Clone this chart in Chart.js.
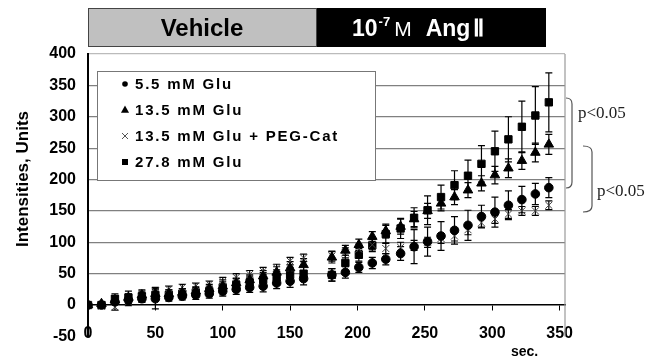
<!DOCTYPE html>
<html>
<head>
<meta charset="utf-8">
<script src="https://cdn.jsdelivr.net/npm/chart.js@4.4.1/dist/chart.umd.min.js"></script>
<style>
  html, body { margin: 0; padding: 0; background: #fff; }
  #wrap { width: 651px; height: 358px; position: relative; }
</style>
</head>
<body>
<div id="wrap"><canvas id="c" width="651" height="358"></canvas></div>
<script>
(function () {
  'use strict';

  // sampling times (sec.), no sample at 170 when Ang II is added
  const times = [0, 10, 20, 30, 40, 50, 60, 70, 80, 90, 100, 110, 120, 130, 140, 150, 160,
                 181, 191, 201, 211, 221, 232, 242, 252, 262, 272, 282, 292, 302, 312, 322, 332, 342];

  const seriesNames = ['5.5 mM Glu', '13.5 mM Glu', '13.5 mM Glu + PEG-Cat', '27.8 mM Glu'];

  const glu55 = [0, 0, 5, 8, 10, 10, 12, 14, 16, 18, 22, 25, 28, 30, 35, 38, 42,
                 48, 52, 60, 67, 73, 82, 93, 101, 110, 119, 127, 141, 148, 159, 168, 177, 187];
  const glu55Err = [0, 2, 4, 5, 5, 16, 6, 6, 7, 7, 8, 8, 8, 9, 9, 10, 10,
                    10, 9, 8, 9, 9, 11, 27, 23, 23, 22, 24, 18, 24, 23, 21, 17, 16];

  const glu135 = [0, 2, 8, 12, 16, 18, 18, 20, 22, 26, 30, 35, 40, 46, 52, 59, 64,
                  76, 87, 96, 109, 118, 125, 137, 150, 162, 172, 183, 194, 207, 218, 230, 243, 256];
  const glu135Err = [0, 2, 5, 6, 6, 6, 6, 6, 7, 7, 7, 8, 8, 9, 9, 10, 10,
                     9, 8, 9, 8, 11, 12, 12, 12, 12, 12, 12, 12, 14, 15, 14, 15, 16];

  const pegCat = [0, -2, -3, 5, 12, 22, 25, 28, 30, 33, 38, 44, 49, 54, 59, 70, 75,
                  78, 83, 89, 96, 90, 92, 95, 100, 106, 110, 120, 131, 137, 145, 150, 150, 159];
  const pegCatErr = [0, 3, 5, 6, 6, 6, 5, 5, 5, 5, 6, 6, 6, 6, 6, 6, 6,
                     8, 8, 8, 8, 8, 8, 8, 8, 8, 8, 8, 7, 7, 7, 7, 7, 7];

  const glu278 = [0, 0, 10, 12, 14, 16, 16, 18, 20, 22, 28, 32, 36, 40, 44, 48, 50,
                  48, 67, 80, 95, 113, 122, 139, 151, 172, 191, 206, 225, 245, 264, 284, 302, 323];
  const glu278Err = [0, 3, 8, 10, 10, 10, 8, 8, 8, 8, 12, 10, 10, 12, 12, 12, 12,
                     10, 12, 10, 10, 14, 16, 16, 23, 19, 23, 25, 29, 32, 36, 41, 46, 47];

  const xTicks = [0, 50, 100, 150, 200, 250, 300, 350];
  const yTicks = [-50, 0, 50, 100, 150, 200, 250, 300, 350, 400];

  const FONT = "'Liberation Sans', Arial, sans-serif";
  const SERIF = "'Liberation Serif', 'Times New Roman', serif";

  const styles = [
    { pointStyle: 'circle',   radius: 4.3, color: '#000', bw: 1 },
    { pointStyle: 'triangle', radius: 5.5, color: '#000', bw: 1 },
    { pointStyle: 'crossRot', radius: 5,   color: '#444', bw: 1 },
    { pointStyle: 'rect',     radius: 5.2, color: '#000', bw: 1 }
  ];
  const values = [glu55, glu135, pegCat, glu278];
  const errors = [glu55Err, glu135Err, pegCatErr, glu278Err];

  const datasets = values.map((vals, i) => ({
    label: seriesNames[i],
    data: vals.map((v, j) => ({ x: times[j], y: v })),
    err: errors[i],
    pointStyle: styles[i].pointStyle,
    pointRadius: styles[i].radius,
    pointBackgroundColor: styles[i].color,
    pointBorderColor: styles[i].color,
    pointBorderWidth: styles[i].bw,
    showLine: false
  }));

  // vertical error bars with caps, drawn under the markers
  const errorBars = {
    id: 'errorBars',
    beforeDatasetsDraw(chart) {
      const ctx = chart.ctx;
      const xs = chart.scales.x, ys = chart.scales.y;
      ctx.save();
      ctx.strokeStyle = '#000';
      ctx.lineWidth = 1.2;
      chart.data.datasets.forEach(ds => {
        ds.data.forEach((p, j) => {
          const e = ds.err[j];
          if (!e) return;
          const x = xs.getPixelForValue(p.x);
          const y1 = ys.getPixelForValue(p.y + e);
          const y2 = ys.getPixelForValue(p.y - e);
          ctx.beginPath();
          ctx.moveTo(x, y1); ctx.lineTo(x, y2);
          ctx.moveTo(x - 3.5, y1); ctx.lineTo(x + 3.5, y1);
          ctx.moveTo(x - 3.5, y2); ctx.lineTo(x + 3.5, y2);
          ctx.stroke();
        });
      });
      ctx.restore();
    }
  };

  function marker(ctx, style, x, y, r) {
    ctx.beginPath();
    if (style === 'circle') {
      ctx.arc(x, y, r, 0, Math.PI * 2); ctx.fill();
    } else if (style === 'triangle') {
      ctx.moveTo(x, y - r); ctx.lineTo(x + r * 0.9, y + r * 0.6); ctx.lineTo(x - r * 0.9, y + r * 0.6);
      ctx.closePath(); ctx.fill();
    } else if (style === 'rect') {
      ctx.fillRect(x - r, y - r, 2 * r, 2 * r);
    } else {
      ctx.moveTo(x - r, y - r); ctx.lineTo(x + r, y + r);
      ctx.moveTo(x + r, y - r); ctx.lineTo(x - r, y + r);
      ctx.stroke();
    }
  }

  function bracket(ctx, x0, x1, top, bottom) {
    ctx.beginPath();
    ctx.moveTo(x0, top);
    ctx.quadraticCurveTo(x1, top, x1, top + 6);
    ctx.lineTo(x1, bottom - 6);
    ctx.quadraticCurveTo(x1, bottom, x0, bottom);
    ctx.stroke();
  }

  const decorations = {
    id: 'decorations',
    beforeDatasetsDraw(chart) {
      const ctx = chart.ctx, a = chart.chartArea;
      ctx.save();
      ctx.strokeStyle = '#999';
      ctx.lineWidth = 1.2;
      ctx.beginPath();
      ctx.moveTo(a.right, a.top); ctx.lineTo(a.right, a.bottom);
      ctx.stroke();
      ctx.restore();
    },
    afterDraw(chart) {
      const ctx = chart.ctx;
      ctx.save();

      // header boxes
      ctx.fillStyle = '#c0c0c0';
      ctx.fillRect(88, 8, 228, 38);
      ctx.strokeStyle = '#444';
      ctx.lineWidth = 1;
      ctx.strokeRect(88.5, 8.5, 228, 38);
      ctx.fillStyle = '#000';
      ctx.fillRect(317, 8, 229, 39);

      ctx.textBaseline = 'alphabetic';
      ctx.textAlign = 'center';
      ctx.fillStyle = '#000';
      ctx.font = 'bold 24px ' + FONT;
      ctx.fillText('Vehicle', 202, 36);

      ctx.textAlign = 'left';
      ctx.fillStyle = '#fff';
      let x = 352;
      ctx.font = 'bold 23px ' + FONT; ctx.fillText('10', x, 36); x += ctx.measureText('10').width + 1;
      ctx.font = 'bold 13px ' + FONT; ctx.fillText('-7', x, 26); x += ctx.measureText('-7').width + 4;
      ctx.font = '21px ' + FONT; ctx.fillText('M', x, 36); x += ctx.measureText('M').width + 14;
      ctx.font = 'bold 23px ' + FONT; ctx.fillText('Ang', x, 36); x += ctx.measureText('Ang').width + 3;
      ctx.fillText('\u2161', x, 36);

      // legend
      ctx.fillStyle = '#fff';
      ctx.fillRect(97, 71, 278, 109);
      ctx.strokeStyle = '#777';
      ctx.strokeRect(97.5, 71.5, 278, 109);
      const rows = [84, 110, 136, 162];
      const legR = [2.8, 4.5, 3, 3];
      ctx.font = 'bold 15px ' + FONT;
      ctx.textBaseline = 'middle';
      seriesNames.forEach((name, i) => {
        ctx.fillStyle = styles[i].color;
        ctx.strokeStyle = '#555';
        ctx.lineWidth = 1;
        marker(ctx, styles[i].pointStyle, 125, rows[i], legR[i]);
        ctx.fillStyle = '#000';
        ctx.letterSpacing = '1.8px';
        ctx.fillText(name, 135, rows[i] + 1);
        ctx.letterSpacing = '0px';
      });

      // significance brackets
      ctx.strokeStyle = '#555';
      ctx.lineWidth = 1.2;
      bracket(ctx, 566, 572, 98, 188);
      bracket(ctx, 583, 592, 146, 212);
      ctx.fillStyle = '#222';
      ctx.font = '17px ' + SERIF;
      ctx.textBaseline = 'middle';
      ctx.fillText('p<0.05', 578, 114);
      ctx.fillText('p<0.05', 597, 192);

      // axis title and unit
      ctx.fillStyle = '#000';
      ctx.font = 'bold 17px ' + FONT;
      ctx.textAlign = 'center';
      ctx.save();
      ctx.translate(23, 179);
      ctx.rotate(-Math.PI / 2);
      ctx.fillText('Intensities, Units', 0, 0);
      ctx.restore();
      ctx.font = 'bold 14px ' + FONT;
      ctx.textAlign = 'left';
      ctx.fillText('sec.', 511, 352);

      ctx.restore();
    }
  };

  new Chart(document.getElementById('c'), {
    type: 'scatter',
    data: { datasets: datasets },
    options: {
      responsive: false,
      animation: false,
      layout: { padding: { top: 54, right: 86, bottom: 13, left: 0 } },
      plugins: { legend: { display: false }, tooltip: { enabled: false } },
      scales: {
        x: {
          type: 'linear',
          min: 0,
          max: 354,
          position: { y: 0 },
          afterBuildTicks: s => { s.ticks = xTicks.map(v => ({ value: v })); },
          grid: { drawOnChartArea: false, drawTicks: true, tickLength: 5, color: '#000', lineWidth: 1 },
          border: { color: '#000', width: 1.5 },
          ticks: { padding: 14, color: '#000', autoSkip: false, maxRotation: 0,
                   font: { family: FONT, size: 16, weight: 'bold' } }
        },
        y: {
          type: 'linear',
          min: -50,
          max: 400,
          afterBuildTicks: s => { s.ticks = yTicks.map(v => ({ value: v })); },
          afterFit: s => { s.width = 88; },
          grid: {
            drawTicks: false,
            lineWidth: 1.2,
            color: c => {
              const v = c.tick && c.tick.value;
              if (v === 400) return '#bbb';
              if (v === 0 || v === -50) return 'rgba(0,0,0,0)';
              return '#808080';
            }
          },
          border: { color: '#000', width: 2 },
          ticks: { padding: 12, color: '#000', font: { family: FONT, size: 16, weight: 'bold' } }
        }
      }
    },
    plugins: [errorBars, decorations]
  });
})();
</script>
</body>
</html>
